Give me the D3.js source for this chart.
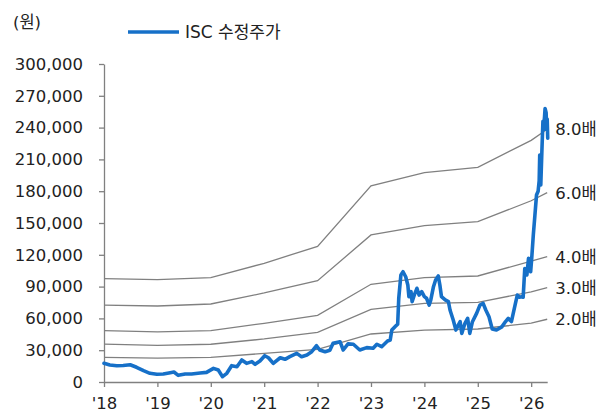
<!DOCTYPE html>
<html><head><meta charset="utf-8">
<script src="https://cdn.jsdelivr.net/npm/d3@7/dist/d3.min.js"></script>
<style>
html,body{margin:0;padding:0;background:#fff;}
svg{display:block;font-family:"DejaVu Sans","Noto Sans CJK KR",sans-serif;}
</style></head>
<body><svg id="c" width="612" height="418"></svg>
<script>
// ---- data ----
const yTicks = [0,30000,60000,90000,120000,150000,180000,210000,240000,270000,300000];
const xTicks = [2018,2019,2020,2021,2022,2023,2024,2025,2026];
const xTickLabels = ["'18","'19","'20","'21","'22","'23","'24","'25","'26"];
const unitLabel = "(원)";
const seriesName = "ISC 수정주가";

// price dates (decimal year) and adjusted price (thousand won)
const priceDates = [2018.00,2018.11,2018.24,2018.36,2018.49,2018.61,2018.74,2018.86,2018.99,2019.11,2019.24,2019.31,2019.39,2019.52,2019.64,2019.80,2019.92,
 2020.05,2020.14,2020.22,2020.30,2020.39,2020.49,2020.58,2020.67,2020.77,2020.83,2020.92,2021.01,2021.08,2021.17,2021.30,2021.39,2021.48,2021.61,2021.70,2021.80,2021.89,
 2021.98,2022.04,2022.14,2022.23,2022.29,2022.42,2022.48,2022.57,2022.67,2022.79,2022.92,2023.04,2023.11,2023.20,2023.31,2023.36,2023.39,2023.45,2023.50,2023.52,2023.56,2023.60,
 2023.65,2023.69,2023.71,2023.75,2023.77,2023.81,2023.86,2023.90,2023.95,2024.00,2024.04,2024.09,2024.12,2024.17,2024.21,2024.26,2024.29,2024.32,2024.39,2024.45,2024.48,
 2024.54,2024.59,2024.62,2024.67,2024.70,2024.76,2024.81,2024.85,2024.90,2024.98,2025.04,2025.10,2025.15,2025.21,2025.27,2025.35,2025.45,2025.52,2025.57,2025.63,2025.70,
 2025.74,2025.78,2025.82,2025.85,2025.88,2025.92,2025.95,2025.99,2026.01,2026.04,2026.07,2026.10,2026.13,2026.15,2026.16,2026.18,2026.20,2026.22,2026.23,2026.25,2026.26,
 2026.28,2026.29,2026.30,2026.31];
const priceValues = [17.6,16.0,15.4,15.6,16.3,13.9,10.7,8.2,7.3,7.5,8.8,9.4,6.3,7.5,7.5,8.5,9.1,
 12.9,11.3,5.0,8.2,15.4,14.4,20.8,17.6,19.2,16.7,19.8,24.8,22.9,17.6,22.9,21.4,23.9,27.0,23.9,25.5,28.6,
 34.2,30.2,28.6,30.0,36.5,38.0,30.2,36.0,35.6,30.2,32.4,31.8,35.6,33.3,38.7,39.6,49.0,52.2,54.5,79.0,101.0,104.0,
 99.3,91.5,80.5,85.2,75.8,82.0,88.4,82.0,85.2,80.5,79.0,72.6,77.4,89.9,96.2,100.0,91.5,80.5,77.4,75.8,67.9,
 58.5,49.0,52.2,56.9,45.9,55.4,60.1,45.9,56.9,65.0,72.6,74.2,67.9,61.6,50.0,49.0,52.0,57.0,60.0,57.0,73.0,
 82.0,80.0,80.5,80.0,107.0,101.0,116.7,104.0,116.7,138.7,157.5,176.4,180.0,190.0,214.0,186.0,217.0,246.0,238.0,250.0,258.0,
 254.0,238.0,248.0,230.0];

// PBR band lines (thousand won)
const bandDates = [2018,2019,2020,2021,2022,2023,2024,2025,2026,2026.30];
const band8 = [97.5,96.5,98.4,112,128,185,197.5,202.5,228,238.4];
const band6 = [72.6,71.7,73.6,84,95.6,138.7,147.5,151.2,171,178.6];
const band4 = [48.4,47.2,48.4,55.4,62.9,92.2,98.4,100,114,118.2];
const band3 = [35.8,34.6,35.6,40.6,46.9,68.6,74.2,75.2,85,89];
const band2 = [23.3,22.6,23.3,27,30.8,45.3,49,50,55.5,59.2];
const bandLabels = ["8.0배","6.0배","4.0배","3.0배","2.0배"];

// ---- chart ----
const svg = d3.select("#c");
const x = d3.scaleLinear().domain([2018, 2026.30]).range([104, 547.2]);
const y = d3.scaleLinear().domain([0, 300000]).range([382, 64]);
const textColor = "#222";
const axisColor = "#808080";

const yAxis = d3.axisLeft(y).tickValues(yTicks).tickFormat(d3.format(",")).tickSize(5).tickSizeOuter(0).tickPadding(16);
const gy = svg.append("g").attr("transform","translate(104,0)").call(yAxis);
const xAxis = d3.axisBottom(x).tickValues(xTicks).tickFormat((d,i)=>xTickLabels[i]).tickSize(5).tickSizeOuter(0).tickPadding(10);
const gx = svg.append("g").attr("transform","translate(0,382)").call(xAxis);
[gx,gy].forEach(g=>{
  g.select(".domain").attr("stroke",axisColor).attr("stroke-width",1.3);
  g.selectAll(".tick line").attr("stroke",axisColor).attr("stroke-width",1.3);
  g.selectAll(".tick text").attr("fill",textColor).style("font-size","16.5px").style("font-family","DejaVu Sans, Noto Sans CJK KR, sans-serif");
});

const bands = [band8,band6,band4,band3,band2];
const bandLine = d3.line().x((d,i)=>x(bandDates[i])).y(d=>y(d*1000));
bands.forEach((b,k)=>{
  svg.append("path").attr("d",bandLine(b)).attr("fill","none").attr("stroke","#808080").attr("stroke-width",1.3);
  svg.append("text").attr("x",x(bandDates[bandDates.length-1])+8).attr("y",y(b[b.length-1]*1000))
    .attr("dy","0.36em").attr("fill",textColor).style("font-size","16.5px").text(bandLabels[k]);
});

const priceLine = d3.line().x((d,i)=>x(priceDates[i])).y(d=>y(d*1000));
svg.append("path").attr("d",priceLine(priceValues)).attr("fill","none").attr("stroke","#1670c8")
  .attr("stroke-width",3.6).attr("stroke-linejoin","round").attr("stroke-linecap","round");

// unit label and legend
svg.append("text").attr("x",13).attr("y",28).attr("fill",textColor).style("font-size","16.5px").text(unitLabel);
svg.append("line").attr("x1",128).attr("x2",179).attr("y1",32).attr("y2",32).attr("stroke","#1670c8").attr("stroke-width",3.6);
svg.append("text").attr("x",185).attr("y",38).attr("fill",textColor).style("font-size","17px").text(seriesName);
</script></body></html>
